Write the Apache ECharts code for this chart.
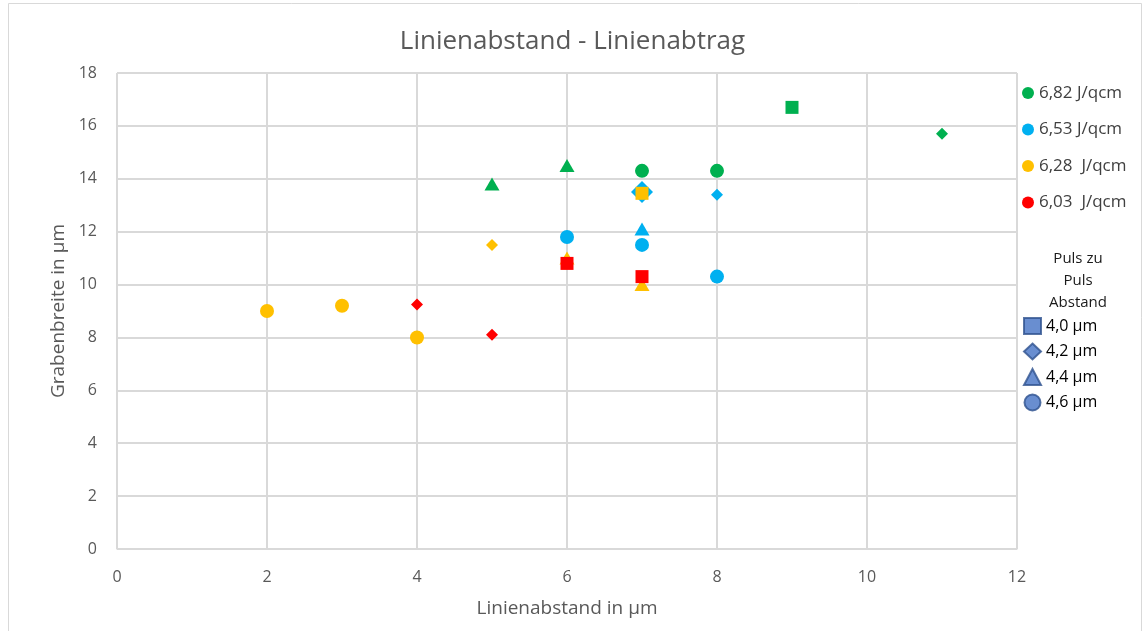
<!DOCTYPE html>
<html>
<head>
<meta charset="utf-8">
<script src="https://cdn.jsdelivr.net/npm/echarts@6/dist/echarts.min.js"></script>
<style>html,body{margin:0;padding:0;background:#fff}#c{width:1145px;height:631px}</style>
</head>
<body>
<div id="c"></div>
<script>
// Energy series names and colours
const energies = ['6,82 J/qcm', '6,53 J/qcm', '6,28  J/qcm', '6,03  J/qcm'];
const energyColors = ['#00B050', '#00B0F0', '#FFC000', '#FF0000'];
// Pulse-to-pulse distance (shape legend)
const pulses = ['4,0 µm', '4,2 µm', '4,4 µm', '4,6 µm'];
// Data: [Linienabstand, Grabenbreite, pulse index]
const green  = [[5, 13.8, 2], [6, 14.5, 2], [7, 14.3, 3], [8, 14.3, 3], [9, 16.7, 0], [11, 15.7, 1]];
const blue   = [[7, 13.5, 1], [8, 13.4, 1], [7, 12.1, 2], [6, 11.8, 3], [7, 11.5, 3], [8, 10.3, 3]];
const yellow = [[2, 9.0, 3], [3, 9.2, 3], [4, 8.0, 3], [5, 11.5, 1], [6, 11.0, 2], [7, 10.0, 2], [7, 13.45, 0]];
const red    = [[4, 9.25, 1], [5, 8.1, 1], [6, 10.8, 0], [7, 10.3, 0]];
const xTicks = [0, 2, 4, 6, 8, 10, 12];
const yTicks = [0, 2, 4, 6, 8, 10, 12, 14, 16, 18];

// styling
const shapeSymbols = ['rect', 'diamond', 'triangle', 'circle'];
const shapeSizes = [[13, 13], [12, 12], [15, 13], [14, 14]];
const sizeOverride = { '1-0': [22, 22] }; // larger blue diamond marker at x=7
const groups = [green, blue, yellow, red];
const font = 'Open Sans, Noto Sans, sans-serif';

const series = groups.map((g, i) => ({
  name: energies[i],
  type: 'scatter',
  itemStyle: { color: energyColors[i], opacity: 1 },
  data: g.map((p, j) => ({ value: [p[0], p[1]], symbol: shapeSymbols[p[2]], symbolSize: sizeOverride[i + '-' + j] || shapeSizes[p[2]] })),
  z: 2 + i
}));
pulses.forEach((p, i) => series.push({
  name: p, type: 'scatter', symbol: shapeSymbols[i], data: [],
  itemStyle: { color: '#4472C4', borderColor: '#2F528F', borderWidth: 1 }
}));

const chart = echarts.init(document.getElementById('c'), null, { renderer: 'canvas' });
chart.setOption({
  animation: false,
  backgroundColor: '#fff',
  title: [
    { text: 'Linienabstand - Linienabtrag', left: 'center', top: 24,
      textStyle: { fontFamily: font, fontSize: 26, fontWeight: 'normal', color: '#595959' } },
    { text: 'Puls zu\nPuls\nAbstand', left: 1073, top: 243, textAlign: 'center',
      textStyle: { fontFamily: font, fontSize: 15, fontWeight: 500, color: '#1a1a1a', lineHeight: 22, align: 'center' } }
  ],
  graphic: [{ type: 'rect', shape: { x: 8.5, y: 3.5, width: 1133, height: 640 }, style: { fill: 'none', stroke: '#d9d9d9', lineWidth: 1 } }],
  grid: { left: 117, right: 128, top: 73, bottom: 82 },
  legend: [
    { data: energies.map(n => ({ name: n, icon: 'circle' })), orient: 'vertical', left: 1017, top: 79,
      itemWidth: 12, itemHeight: 12, itemGap: 18.5, selectedMode: false,
      textStyle: { fontFamily: font, fontSize: 17, lineHeight: 18, color: '#404040' } },
    { data: pulses, orient: 'vertical', left: 1018, top: 312,
      itemWidth: 17, itemHeight: 16, itemGap: 7.5, selectedMode: false,
      textStyle: { fontFamily: font, fontSize: 16, lineHeight: 16, color: '#000' } }
  ],
  xAxis: {
    type: 'value', min: 0, max: 12, interval: 2,
    name: 'Linienabstand in µm', nameLocation: 'middle', nameGap: 50,
    nameTextStyle: { fontFamily: font, fontSize: 19, color: '#595959' },
    axisLine: { show: true, lineStyle: { color: '#d9d9d9' } },
    axisTick: { show: false },
    axisLabel: { fontFamily: font, fontSize: 16, color: '#595959', margin: 20, formatter: v => xTicks.includes(v) ? String(v) : '' },
    splitLine: { show: true, lineStyle: { color: '#d9d9d9', width: 2 } }
  },
  yAxis: {
    type: 'value', min: 0, max: 18, interval: 2,
    name: 'Grabenbreite in µm', nameLocation: 'middle', nameGap: 48,
    nameTextStyle: { fontFamily: font, fontSize: 19, color: '#595959' },
    axisLine: { show: true, lineStyle: { color: '#d9d9d9' } },
    axisTick: { show: false },
    axisLabel: { fontFamily: font, fontSize: 16, color: '#595959', margin: 20, formatter: v => yTicks.includes(v) ? String(v) : '' },
    splitLine: { show: true, lineStyle: { color: '#d9d9d9', width: 2 } }
  },
  series
});
</script>
</body>
</html>
